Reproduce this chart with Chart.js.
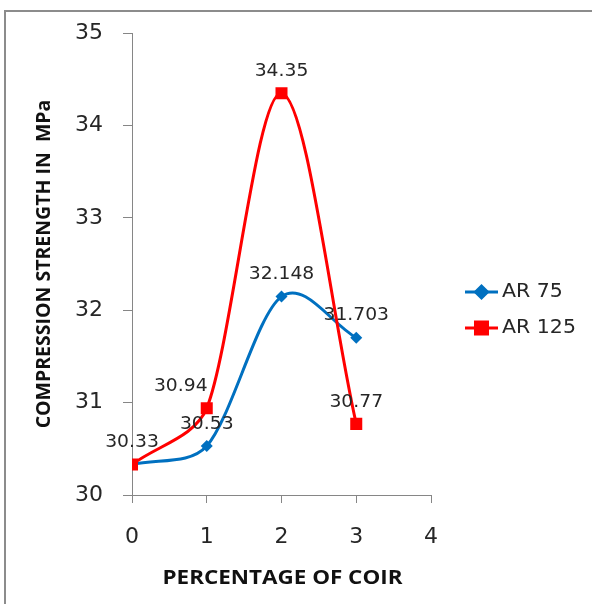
<!DOCTYPE html>
<html>
<head>
<meta charset="utf-8">
<script src="https://cdn.jsdelivr.net/npm/chart.js@4/dist/chart.umd.min.js"></script>
<style>
  html, body { margin: 0; padding: 0; background: #fff; }
  canvas { display: block; }
</style>
</head>
<body>
<canvas id="c" width="592" height="604"></canvas>
<script>
// Percentage of coir added to the mix
const coirPercent = [0, 1, 2, 3];
// Compression strength (MPa) for each mix
const ar75 = [30.33, 30.53, 32.148, 31.703];
const ar125 = [30.33, 30.94, 34.35, 30.77];
const seriesNames = ['AR 75', 'AR 125'];
const yTicks = [30, 31, 32, 33, 34, 35];
const xTicks = [0, 1, 2, 3, 4];

const BLUE = '#0070C0';
const RED = '#FF0000';
const TEXT = '#262626';
const AXIS = '#868686';

const toPoints = (vals) => vals.map((v, i) => ({ x: coirPercent[i], y: v }));

// Text drawn slightly wide, like the rest of the sheet's lettering
function wideText(ctx, txt, x, y, sx) {
  ctx.save();
  ctx.translate(x, y);
  ctx.scale(sx, 1);
  ctx.fillText(txt, 0, 0);
  ctx.restore();
}

// Smoothed lines: tangent (next - prev) / 6 at inner points, each handle
// kept within a third of its own segment; end handles point at the neighbour.
const smoothPlugin = {
  id: 'smoothLines',
  beforeDatasetsDraw(chart) {
    chart.data.datasets.forEach((ds, di) => {
      const meta = chart.getDatasetMeta(di);
      const line = meta.dataset;
      if (!line) return;
      line.updateControlPoints(chart.chartArea, 'x');
      const pts = meta.data;
      const n = pts.length;
      const dist = (a, b) => Math.hypot(b.x - a.x, b.y - a.y);
      for (let i = 0; i < n; i++) {
        const p = pts[i];
        if (i === 0 || i === n - 1) {
          const q = i === 0 ? pts[1] : pts[n - 2];
          const hx = (q.x - p.x) / 3, hy = (q.y - p.y) / 3;
          if (i === 0) { p.cp2x = p.x + hx; p.cp2y = p.y + hy; p.cp1x = p.x; p.cp1y = p.y; }
          else { p.cp1x = p.x + hx; p.cp1y = p.y + hy; p.cp2x = p.x; p.cp2y = p.y; }
          continue;
        }
        const prev = pts[i - 1], next = pts[i + 1];
        const tx = (next.x - prev.x) / 6, ty = (next.y - prev.y) / 6;
        const tl = Math.hypot(tx, ty) || 1;
        const back = Math.min(tl, dist(prev, p) / 3) / tl;
        const fwd = Math.min(tl, dist(p, next) / 3) / tl;
        p.cp1x = p.x - tx * back; p.cp1y = p.y - ty * back;
        p.cp2x = p.x + tx * fwd; p.cp2y = p.y + ty * fwd;
      }
      line._pointsUpdated = true;
    });
  }
};

// Outer frame of the chart object
const framePlugin = {
  id: 'frame',
  beforeDraw(chart) {
    const ctx = chart.ctx;
    ctx.save();
    ctx.strokeStyle = '#8c8c8c';
    ctx.lineWidth = 2;
    ctx.beginPath();
    ctx.moveTo(5, 620);
    ctx.lineTo(5, 11);
    ctx.lineTo(620, 11);
    ctx.stroke();
    ctx.restore();
  }
};

// Axis titles
const titlesPlugin = {
  id: 'titles',
  afterDraw(chart) {
    const ctx = chart.ctx;
    const area = chart.chartArea;
    ctx.save();
    ctx.fillStyle = '#111';
    ctx.font = 'bold 19.5px "Open Sans"';
    ctx.textAlign = 'center';
    ctx.textBaseline = 'middle';
    wideText(ctx, 'PERCENTAGE OF COIR', (area.left + area.right) / 2 + 1, 578, 1.15);
    ctx.translate(44, 264);
    ctx.rotate(-Math.PI / 2);
    ctx.fillText('COMPRESSION STRENGTH IN  MPa', 0, 0);
    ctx.restore();
  }
};

// Value labels above each marker
const labelOffsets = { '1-1': -26 };
const valueLabelsPlugin = {
  id: 'valueLabels',
  afterDatasetsDraw(chart) {
    const ctx = chart.ctx;
    const drawn = new Set();
    ctx.save();
    ctx.fillStyle = TEXT;
    ctx.font = '18px "DejaVu Sans"';
    ctx.textAlign = 'center';
    ctx.textBaseline = 'middle';
    chart.data.datasets.forEach((ds, di) => {
      const meta = chart.getDatasetMeta(di);
      meta.data.forEach((pt, i) => {
        const txt = String(ds.data[i].y);
        const dx = labelOffsets[di + '-' + i] || 0;
        const x = pt.x + dx;
        const y = pt.y - 22;
        const key = txt + '@' + Math.round(x) + ',' + Math.round(y);
        if (drawn.has(key)) return;
        drawn.add(key);
        wideText(ctx, txt, x, y, 1.04);
      });
    });
    ctx.restore();
  }
};

// Legend with line-and-marker samples
const legendPlugin = {
  id: 'sideLegend',
  afterDraw(chart) {
    const ctx = chart.ctx;
    const rows = [292, 328];
    ctx.save();
    chart.data.datasets.forEach((ds, di) => {
      const y = rows[di];
      ctx.strokeStyle = ds.borderColor;
      ctx.lineWidth = 3;
      ctx.beginPath();
      ctx.moveTo(465, y);
      ctx.lineTo(498, y);
      ctx.stroke();
      Chart.helpers.drawPoint(ctx, {
        pointStyle: ds.pointStyle,
        radius: ds.pointRadius,
        borderWidth: 1
      }, 481.5, y);
      ctx.fillStyle = ds.borderColor;
      ctx.fill();
      ctx.fillStyle = TEXT;
      ctx.font = '19px "DejaVu Sans"';
      ctx.textAlign = 'left';
      ctx.textBaseline = 'middle';
      wideText(ctx, ds.label, 502, y, 1.08);
    });
    ctx.restore();
  }
};

new Chart(document.getElementById('c'), {
  type: 'line',
  data: {
    datasets: [
      {
        label: seriesNames[0],
        data: toPoints(ar75),
        borderColor: BLUE,
        backgroundColor: BLUE,
        borderWidth: 3,
        pointStyle: 'rectRot',
        pointRadius: 6,
        pointBorderWidth: 0,
        tension: 0.4,
        order: 1
      },
      {
        label: seriesNames[1],
        data: toPoints(ar125),
        borderColor: RED,
        backgroundColor: RED,
        borderWidth: 3,
        pointStyle: 'rect',
        pointRadius: 8.5,
        pointBorderWidth: 0,
        tension: 0.4,
        order: 0
      }
    ]
  },
  options: {
    responsive: false,
    maintainAspectRatio: false,
    animation: false,
    layout: { padding: { top: 33, right: 161, left: 0, bottom: 0 } },
    plugins: {
      legend: { display: false },
      tooltip: { enabled: false }
    },
    scales: {
      x: {
        type: 'linear',
        min: xTicks[0],
        max: xTicks[xTicks.length - 1],
        afterFit(s) { s.height = 109; },
        afterBuildTicks(s) { s.ticks = xTicks.map(v => ({ value: v })); },
        grid: { drawOnChartArea: false, drawTicks: true, tickLength: 8, color: AXIS },
        border: { display: true, color: AXIS, width: 1 },
        ticks: { color: TEXT, font: { family: 'DejaVu Sans', size: 22 }, padding: 21 }
      },
      y: {
        min: yTicks[0],
        max: yTicks[yTicks.length - 1],
        afterFit(s) { s.width = 132; },
        afterBuildTicks(s) { s.ticks = yTicks.map(v => ({ value: v })); },
        grid: { drawOnChartArea: false, drawTicks: true, tickLength: 9, color: AXIS },
        border: { display: true, color: AXIS, width: 1 },
        ticks: { color: TEXT, font: { family: 'DejaVu Sans', size: 22 }, padding: 20 }
      }
    }
  },
  plugins: [framePlugin, smoothPlugin, valueLabelsPlugin, titlesPlugin, legendPlugin]
});
</script>
</body>
</html>
